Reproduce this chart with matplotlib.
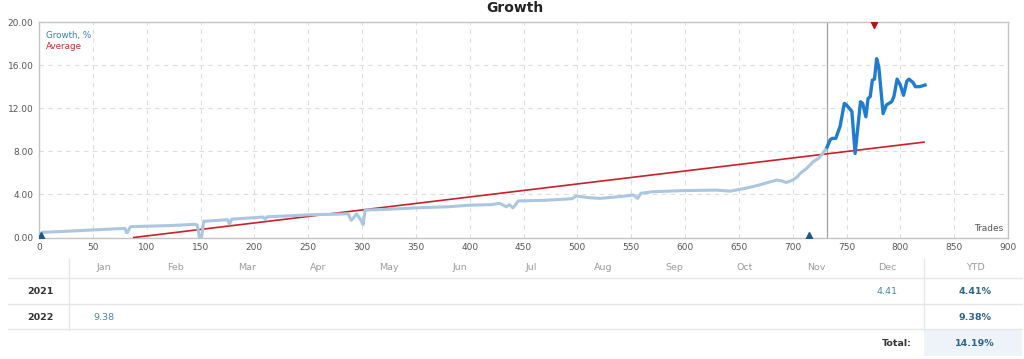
import matplotlib
matplotlib.use("Agg")
import matplotlib.pyplot as plt
from matplotlib.lines import Line2D
from matplotlib.patches import Rectangle

# ---------------- data ----------------
light_x = [0, 2, 3, 20, 50, 80, 81, 82, 85, 100, 120, 145, 147, 149, 151, 153, 175, 177, 179,
           200, 208, 210, 212, 230, 250, 270, 287, 290, 292, 295, 299, 301, 303, 320, 350,
           380, 400, 420, 428, 434, 437, 440, 442, 445, 470, 490, 495, 499, 510, 521, 540,
           552, 556, 559, 570, 598, 629, 642, 650, 660, 670, 685, 690, 694, 700, 704, 707,
           713, 719, 724, 728, 732]
light_y = [0.0, 0.3, 0.48, 0.55, 0.7, 0.85, 0.5, 0.45, 1.0, 1.05, 1.1, 1.22, 1.15, 0.0, 0.0, 1.5,
           1.65, 1.25, 1.7, 1.84, 1.9, 1.7, 1.92, 2.0, 2.1, 2.15, 2.2, 1.6, 1.8, 2.2, 1.6, 1.2,
           2.55, 2.6, 2.75, 2.85, 3.0, 3.05, 3.17, 2.85, 3.05, 2.75, 2.95, 3.39, 3.45, 3.57,
           3.6, 3.85, 3.7, 3.63, 3.8, 3.94, 3.63, 4.1, 4.25, 4.35, 4.4, 4.3, 4.45, 4.65, 4.9,
           5.33, 5.25, 5.1, 5.33, 5.6, 5.95, 6.42, 7.03, 7.35, 7.8, 8.4]

dark_x = [732, 735, 737, 740, 744, 748, 750, 755, 758, 763, 765, 768, 770, 772, 774, 776, 778,
          780, 784, 787, 792, 794, 797, 800, 803, 806, 808, 811, 812, 814, 818, 823]
dark_y = [8.4, 9.1, 9.2, 9.2, 10.3, 12.45, 12.3, 11.7, 7.8, 12.6, 12.45, 11.2, 12.9, 13.07,
          14.6, 14.7, 16.6, 15.85, 11.5, 12.3, 12.6, 13.07, 14.7, 14.15, 13.2, 14.5, 14.7,
          14.45, 14.35, 14.0, 14.0, 14.15]

avg_x = [88, 822]
avg_y = [0.0, 8.85]

split_trade = 732
up_markers_x = [2, 715]
down_markers_x = [776]

x_ticks = list(range(0, 901, 50))
y_ticks = [0, 4, 8, 12, 16, 20]

months = ["Jan", "Feb", "Mar", "Apr", "May", "Jun", "Jul", "Aug", "Sep", "Oct", "Nov", "Dec"]
years = ["2021", "2022"]
monthly = {"2021": {"Dec": "4.41"}, "2022": {"Jan": "9.38"}}
ytd = {"2021": "4.41%", "2022": "9.38%"}
total = "14.19%"

# ---------------- figure ----------------
W, H = 1024, 359
fig = plt.figure(figsize=(W / 100, H / 100), dpi=100)
plt.rcParams['font.family'] = ['DejaVu Sans']

def fx(px):
    return px / W

def fy(py):
    return 1 - py / H

ax = fig.add_axes([fx(39), fy(237.5), fx(1008) - fx(39), fy(22) - fy(237.5)])
ax.set_xlim(0, 900)
ax.set_ylim(0, 20)
ax.set_xticks(x_ticks)
ax.set_yticks(y_ticks)
ax.set_yticklabels([f"{v:.2f}" for v in y_ticks])
ax.tick_params(axis='both', length=0, labelsize=6.5, colors='#555555', pad=4)
ax.grid(True, color='#dddddd', linestyle=(0, (4, 4)), linewidth=0.8)
ax.set_axisbelow(True)
for s in ax.spines.values():
    s.set_color('#c4c4c4')
    s.set_linewidth(1.0)

ax.plot(avg_x, avg_y, color='#c8202a', linewidth=1.2, zorder=3)
ax.plot(light_x, light_y, color='#aac7df', linewidth=2.2, zorder=4, solid_joinstyle='round')
ax.plot(dark_x, dark_y, color='#1f7ccf', linewidth=2.4, zorder=5, solid_joinstyle='round')
ax.axvline(split_trade, color='#a0a0a0', linewidth=0.9, zorder=2)

ax.plot(up_markers_x, [0] * len(up_markers_x), marker='^', linestyle='none', color='#1d5a8a',
        markersize=8, zorder=6, clip_on=True)
ax.plot(down_markers_x, [20] * len(down_markers_x), marker='v', linestyle='none', color='#b01515',
        markersize=9, zorder=6, clip_on=True)

ax.text(985 / W, 0, "", transform=fig.transFigure)
ax.text(0.995, 0.02, "Trades", transform=ax.transAxes, ha='right', va='bottom',
        fontsize=6.5, color='#555555')
ax.text(0.007, 0.96, "Growth, %", transform=ax.transAxes, ha='left', va='top',
        fontsize=6.3, color='#3a7db5')
ax.text(0.007, 0.905, "Average", transform=ax.transAxes, ha='left', va='top',
        fontsize=6.3, color='#c03030')

fig.text(fx(515), fy(8), "Growth", ha='center', va='center', fontsize=10, fontweight='bold',
         color='#222222')

# ---------------- table ----------------
month_x = [104, 176, 247, 318, 389, 460, 531, 603, 674, 745, 816, 887]
ytd_x = 975
header_y, row_y, total_y = 268, [292, 317], 343

for m, mx in zip(months, month_x):
    fig.text(fx(mx), fy(header_y), m, ha='center', va='center', fontsize=6.8, color='#9a9a9a')
fig.text(fx(ytd_x), fy(header_y), "YTD", ha='center', va='center', fontsize=6.8, color='#9a9a9a')

for yr, ry in zip(years, row_y):
    fig.text(fx(40), fy(ry), yr, ha='center', va='center', fontsize=6.8, fontweight='bold',
             color='#333333')
    for m, mx in zip(months, month_x):
        if m in monthly[yr]:
            fig.text(fx(mx), fy(ry), monthly[yr][m], ha='center', va='center', fontsize=6.8,
                     color='#4a86a8')
    fig.text(fx(ytd_x), fy(ry), ytd[yr], ha='center', va='center', fontsize=6.8,
             fontweight='bold', color='#2e6583')

fig.patches.append(Rectangle((fx(924), fy(356)), fx(1022) - fx(924), fy(330) - fy(356),
                             transform=fig.transFigure, facecolor='#eef3fa', edgecolor='none'))
fig.text(fx(912), fy(total_y), "Total:", ha='right', va='center', fontsize=6.8,
         fontweight='bold', color='#333333')
fig.text(fx(ytd_x), fy(total_y), total, ha='center', va='center', fontsize=6.8,
         fontweight='bold', color='#2e6583')

for ly in [278, 304, 329]:
    fig.lines.append(Line2D([fx(8), fx(1022)], [fy(ly), fy(ly)], transform=fig.transFigure,
                            color='#e6e6e6', linewidth=1.0))
for lx in [69, 924]:
    fig.lines.append(Line2D([fx(lx), fx(lx)], [fy(259), fy(330)], transform=fig.transFigure,
                            color='#e6e6e6', linewidth=1.0))

fig.savefig("out.png", dpi=100, facecolor='white')
